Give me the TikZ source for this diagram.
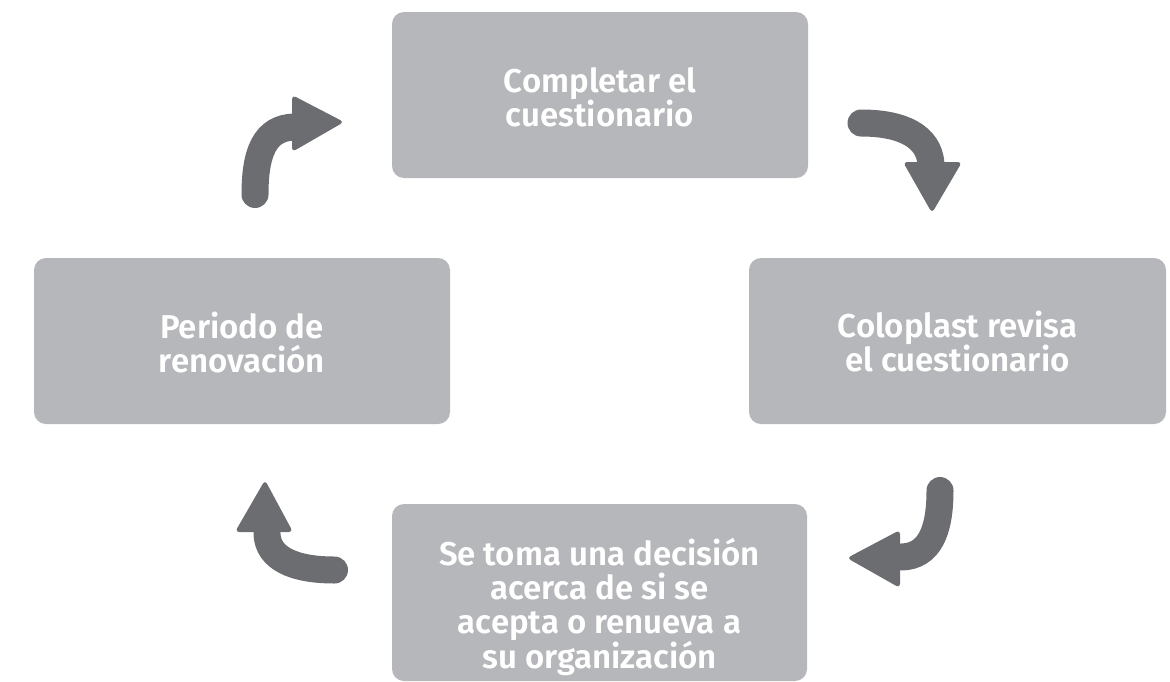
\documentclass[tikz,border=0pt]{standalone}
\usepackage{fontspec}
\setmainfont{Fira Sans}[BoldFont={Fira Sans SemiBold}]
\definecolor{boxgray}{RGB}{182,183,187}
\definecolor{arrowgray}{RGB}{108,109,113}
\begin{document}
\begin{tikzpicture}[x=1pt,y=-1pt,
  stepbox/.style={fill=boxgray, rounded corners=12pt, inner sep=0pt},
  lbl/.style={text=white, font=\fontsize{33}{34}\selectfont\bfseries, align=center, inner sep=0pt},
  band/.style={draw=arrowgray, line width=27pt, line cap=round},
  headtri/.style={fill=arrowgray, rounded corners=4pt}]
\useasboundingbox (0,0) rectangle (1170,681);
% boxes
\node[stepbox, minimum width=416pt, minimum height=166pt] (top) at (600,95) {};
\node[stepbox, minimum width=416pt, minimum height=166pt] (left) at (242,341) {};
\node[stepbox, minimum width=417pt, minimum height=166pt] (right) at (957.5,341) {};
\node[stepbox, minimum width=415pt, minimum height=177pt] (bottom) at (599.5,592.5) {};
% labels
\node[lbl] (toplbl) at (600,97) {Completar el\\cuestionario};
\node[lbl] (leftlbl) at (242,343) {Periodo de\\renovación};
\node[lbl] (rightlbl) at (957.5,342) {Coloplast revisa\\el cuestionario};
\node[lbl] (bottomlbl) at (599.5,607) {Se toma una decisión\\acerca de si se\\acepta o renueva a\\su organización};
% arrow 1 (left -> top)
\coordinate (a1s) at (255,194.5);
\coordinate (a1e) at (294,127);
\draw[band] (a1s) .. controls (255,152) and (265,128) .. (a1e);
\fill[headtri] (292,95) -- (344,122) -- (292,152) -- cycle;
% arrow 2 (top -> right)
\coordinate (a2s) at (861,123);
\coordinate (a2e) at (931,164);
\draw[band] (a2s) .. controls (902,123) and (929,136) .. (a2e);
\fill[headtri] (903,162) -- (962,162) -- (932,213) -- cycle;
% arrow 3 (right -> bottom)
\coordinate (a3s) at (940,490.5);
\coordinate (a3e) at (902,557);
\draw[band] (a3s) .. controls (940,532) and (929,556) .. (a3e);
\fill[headtri] (900,530) -- (900,588) -- (847,558) -- cycle;
% arrow 4 (bottom -> left)
\coordinate (a4s) at (334.5,570);
\coordinate (a4e) at (267,534);
\draw[band] (a4s) .. controls (293,570) and (268,558) .. (a4e);
\fill[headtri] (235,532) -- (293,532) -- (265,480) -- cycle;
\end{tikzpicture}
\end{document}
